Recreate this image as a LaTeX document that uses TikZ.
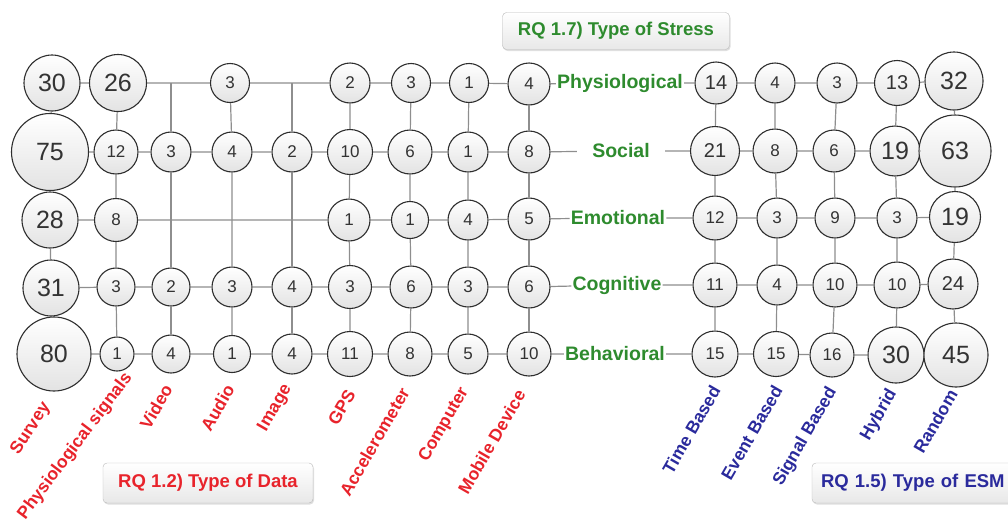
\documentclass[tikz,border=0pt]{standalone}
\usepackage{fontspec}
\setmainfont{Liberation Sans}
\usetikzlibrary{shadows}

\definecolor{stressgreen}{HTML}{2E8B2E}
\definecolor{datared}{HTML}{E8232B}
\definecolor{esmblue}{HTML}{2A2A9C}
\definecolor{linegray}{HTML}{8E8E8E}
\definecolor{ringgray}{HTML}{2E2E2E}

\tikzset{
  num/.style={circle, draw=ringgray, line width=1.1pt, top color=white, bottom color=gray!22,
    inner sep=0pt, minimum size=#1, text=black!80, font=\fontsize{17}{17}\selectfont},
  num/.default=40,
  midnum/.style={font=\fontsize{20}{20}\selectfont},
  bignum/.style={font=\fontsize{25}{25}\selectfont},
  stresslbl/.style={text=stressgreen, font=\bfseries\fontsize{19.5}{20}\selectfont, minimum width=88, inner sep=1pt},
  datalbl/.style={text=datared, rotate=#1, anchor=east, inner sep=0pt, font=\bfseries\fontsize{17.5}{18}\selectfont},
  datalbl/.default=60,
  esmlbl/.style={text=esmblue, rotate=60, anchor=east, inner sep=0pt, font=\bfseries\fontsize{17.5}{18}\selectfont},
  rqbox/.style={rounded corners=4pt, draw=gray!55, top color=white, bottom color=gray!18,
    drop shadow={shadow xshift=1pt, shadow yshift=-1.5pt, opacity=0.25},
    font=\bfseries\fontsize{18.5}{18.5}\selectfont},
  link/.style={draw=linegray, line width=1.2pt}
}

\begin{document}
\begin{tikzpicture}[x=1pt, y=-1pt]
\useasboundingbox (0,0) rectangle (1008,525);
\clip (0,0) rectangle (1008,525);

% RQ boxes
\node[rqbox, minimum width=227, minimum height=37, text=stressgreen] (rqstress) at (616,31) {RQ 1.7) Type of Stress};
\node[rqbox, minimum width=210, minimum height=40, text=datared] (rqdata) at (208,483) {RQ 1.2) Type of Data};
\node[rqbox, minimum width=210, minimum height=40, text=esmblue, text width=192, align=left] (rqesm) at (917,483) {RQ 1.5) Type of ESM};

% type of data, row by row
\node[num=56, bignum] (s1) at (52,83) {30};
\node[num=57, bignum] (p1) at (118,83) {26};
\coordinate (v1) at (171,83);
\node[num=39] (a1) at (230,83) {3};
\coordinate (i1) at (292,83);
\node[num=40] (g1) at (350,83) {2};
\node[num=39] (ac1) at (411,83) {3};
\node[num=39] (c1) at (469,83) {1};
\node[num=42] (m1) at (529,84) {4};

\node[num=77, bignum] (s2) at (50,152) {75};
\node[num=44] (p2) at (116,152) {12};
\node[num=40] (v2) at (171,152) {3};
\node[num=40] (a2) at (232,152) {4};
\node[num=40] (i2) at (292,152) {2};
\node[num=45] (g2) at (350,152) {10};
\node[num=44] (ac2) at (410,152) {6};
\node[num=40] (c2) at (468,152) {1};
\node[num=42] (m2) at (529,152) {8};

\node[num=56, bignum] (s3) at (50,220) {28};
\node[num=43] (p3) at (116,220) {8};
\node[num=42] (g3) at (349,220) {1};
\node[num=37] (ac3) at (410,220) {1};
\node[num=40] (c3) at (468,220) {4};
\node[num=42] (m3) at (529,219) {5};

\node[num=56, bignum] (s4) at (51,288) {31};
\node[num=38] (p4) at (116,287) {3};
\node[num=38] (v4) at (171,287) {2};
\node[num=40] (a4) at (232,287) {3};
\node[num=40] (i4) at (292,287) {4};
\node[num=43] (g4) at (350,287) {3};
\node[num=42] (ac4) at (411,287) {6};
\node[num=40] (c4) at (468,287) {3};
\node[num=42] (m4) at (529,287) {6};

\node[num=74, bignum] (s5) at (54,354) {80};
\node[num=34] (p5) at (117,354) {1};
\node[num=38] (v5) at (171,354) {4};
\node[num=37] (a5) at (232,354) {1};
\node[num=40] (i5) at (292,354) {4};
\node[num=45] (g5) at (350,354) {11};
\node[num=44] (ac5) at (410,354) {8};
\node[num=40] (c5) at (468,354) {5};
\node[num=44] (m5) at (529,354) {10};

% type of stress
\node[stresslbl] (phys) at (620,83) {Physiological};
\node[stresslbl] (soc) at (621,151) {Social};
\node[stresslbl] (emo) at (618,218) {Emotional};
\node[stresslbl] (cog) at (617,285) {Cognitive};
\node[stresslbl] (beh) at (615,354) {Behavioral};

% type of ESM
\node[num=42, midnum] (t1) at (716,83) {14};
\node[num=40] (e1) at (775,83) {4};
\node[num=40] (sg1) at (837,83) {3};
\node[num=45, midnum] (h1) at (897,83) {13};
\node[num=58, bignum] (r1) at (954,81) {32};

\node[num=49, midnum] (t2) at (715,151) {21};
\node[num=44] (e2) at (775,151) {8};
\node[num=42] (sg2) at (834,151) {6};
\node[num=50, bignum] (h2) at (895,151) {19};
\node[num=72, bignum] (r2) at (955,151) {63};

\node[num=44] (t3) at (715,218) {12};
\node[num=40] (e3) at (777,218) {3};
\node[num=40] (sg3) at (835,218) {9};
\node[num=40] (h3) at (897,218) {3};
\node[num=51, bignum] (r3) at (955,217) {19};

\node[num=44] (t4) at (715,285) {11};
\node[num=40] (e4) at (777,285) {4};
\node[num=44] (sg4) at (835,285) {10};
\node[num=46] (h4) at (897,285) {10};
\node[num=50, midnum] (r4) at (953,284) {24};

\node[num=46] (t5) at (715,354) {15};
\node[num=45] (e5) at (776,354) {15};
\node[num=44] (sg5) at (832,355) {16};
\node[num=56, bignum] (h5) at (896,355) {30};
\node[num=64, bignum] (r5) at (956,355) {45};

% rows
\draw[link] (s1) -- (p1) -- (v1) -- (a1) -- (i1) -- (g1) -- (ac1) -- (c1) -- (m1) -- (phys) -- (t1) -- (e1) -- (sg1) -- (h1) -- (r1);
\draw[link] (s2) -- (p2) -- (v2) -- (a2) -- (i2) -- (g2) -- (ac2) -- (c2) -- (m2) -- (soc) -- (t2) -- (e2) -- (sg2) -- (h2) -- (r2);
\draw[link] (s3) -- (p3) -- (g3) -- (ac3) -- (c3) -- (m3) -- (emo) -- (t3) -- (e3) -- (sg3) -- (h3) -- (r3);
\draw[link] (s4) -- (p4) -- (v4) -- (a4) -- (i4) -- (g4) -- (ac4) -- (c4) -- (m4) -- (cog) -- (t4) -- (e4) -- (sg4) -- (h4) -- (r4);
\draw[link] (s5) -- (p5) -- (v5) -- (a5) -- (i5) -- (g5) -- (ac5) -- (c5) -- (m5) -- (beh) -- (t5) -- (e5) -- (sg5) -- (h5) -- (r5);

% columns
\draw[link] (s1) -- (s2) -- (s3) -- (s4) -- (s5);
\draw[link] (p1) -- (p2) -- (p3) -- (p4) -- (p5);
\draw[link] (v1) -- (v2) -- (v4) -- (v5);
\draw[link] (a1) -- (a2) -- (a4) -- (a5);
\draw[link] (i1) -- (i2) -- (i4) -- (i5);
\draw[link] (g1) -- (g2) -- (g3) -- (g4) -- (g5);
\draw[link] (ac1) -- (ac2) -- (ac3) -- (ac4) -- (ac5);
\draw[link] (c1) -- (c2) -- (c3) -- (c4) -- (c5);
\draw[link] (m1) -- (m2) -- (m3) -- (m4) -- (m5);
\draw[link] (t1) -- (t2) -- (t3) -- (t4) -- (t5);
\draw[link] (e1) -- (e2) -- (e3) -- (e4) -- (e5);
\draw[link] (sg1) -- (sg2) -- (sg3) -- (sg4) -- (sg5);
\draw[link] (h1) -- (h2) -- (h3) -- (h4) -- (h5);
\draw[link] (r1) -- (r2) -- (r3) -- (r4) -- (r5);

% column labels
\node[datalbl=57] (lsurvey) at (47,404) {Survey};
\node[datalbl=53] (lphysig) at (129,375) {Physiological signals};
\node[datalbl] (lvideo) at (168,386) {Video};
\node[datalbl] (laudio) at (230,386) {Audio};
\node[datalbl] (limage) at (288,386) {Image};
\node[datalbl] (lgps) at (351,391) {GPS};
\node[datalbl] (laccel) at (405,389) {Accelerometer};
\node[datalbl] (lcomp) at (465,389) {Computer};
\node[datalbl] (lmobile) at (521,391) {Mobile Device};

\node[esmlbl] (ltime) at (716,387) {Time Based};
\node[esmlbl] (levent) at (778,387) {Event Based};
\node[esmlbl] (lsignal) at (833,389) {Signal Based};
\node[esmlbl] (lhybrid) at (893,391) {Hybrid};
\node[esmlbl] (lrandom) at (953,391) {Random};
\end{tikzpicture}
\end{document}
